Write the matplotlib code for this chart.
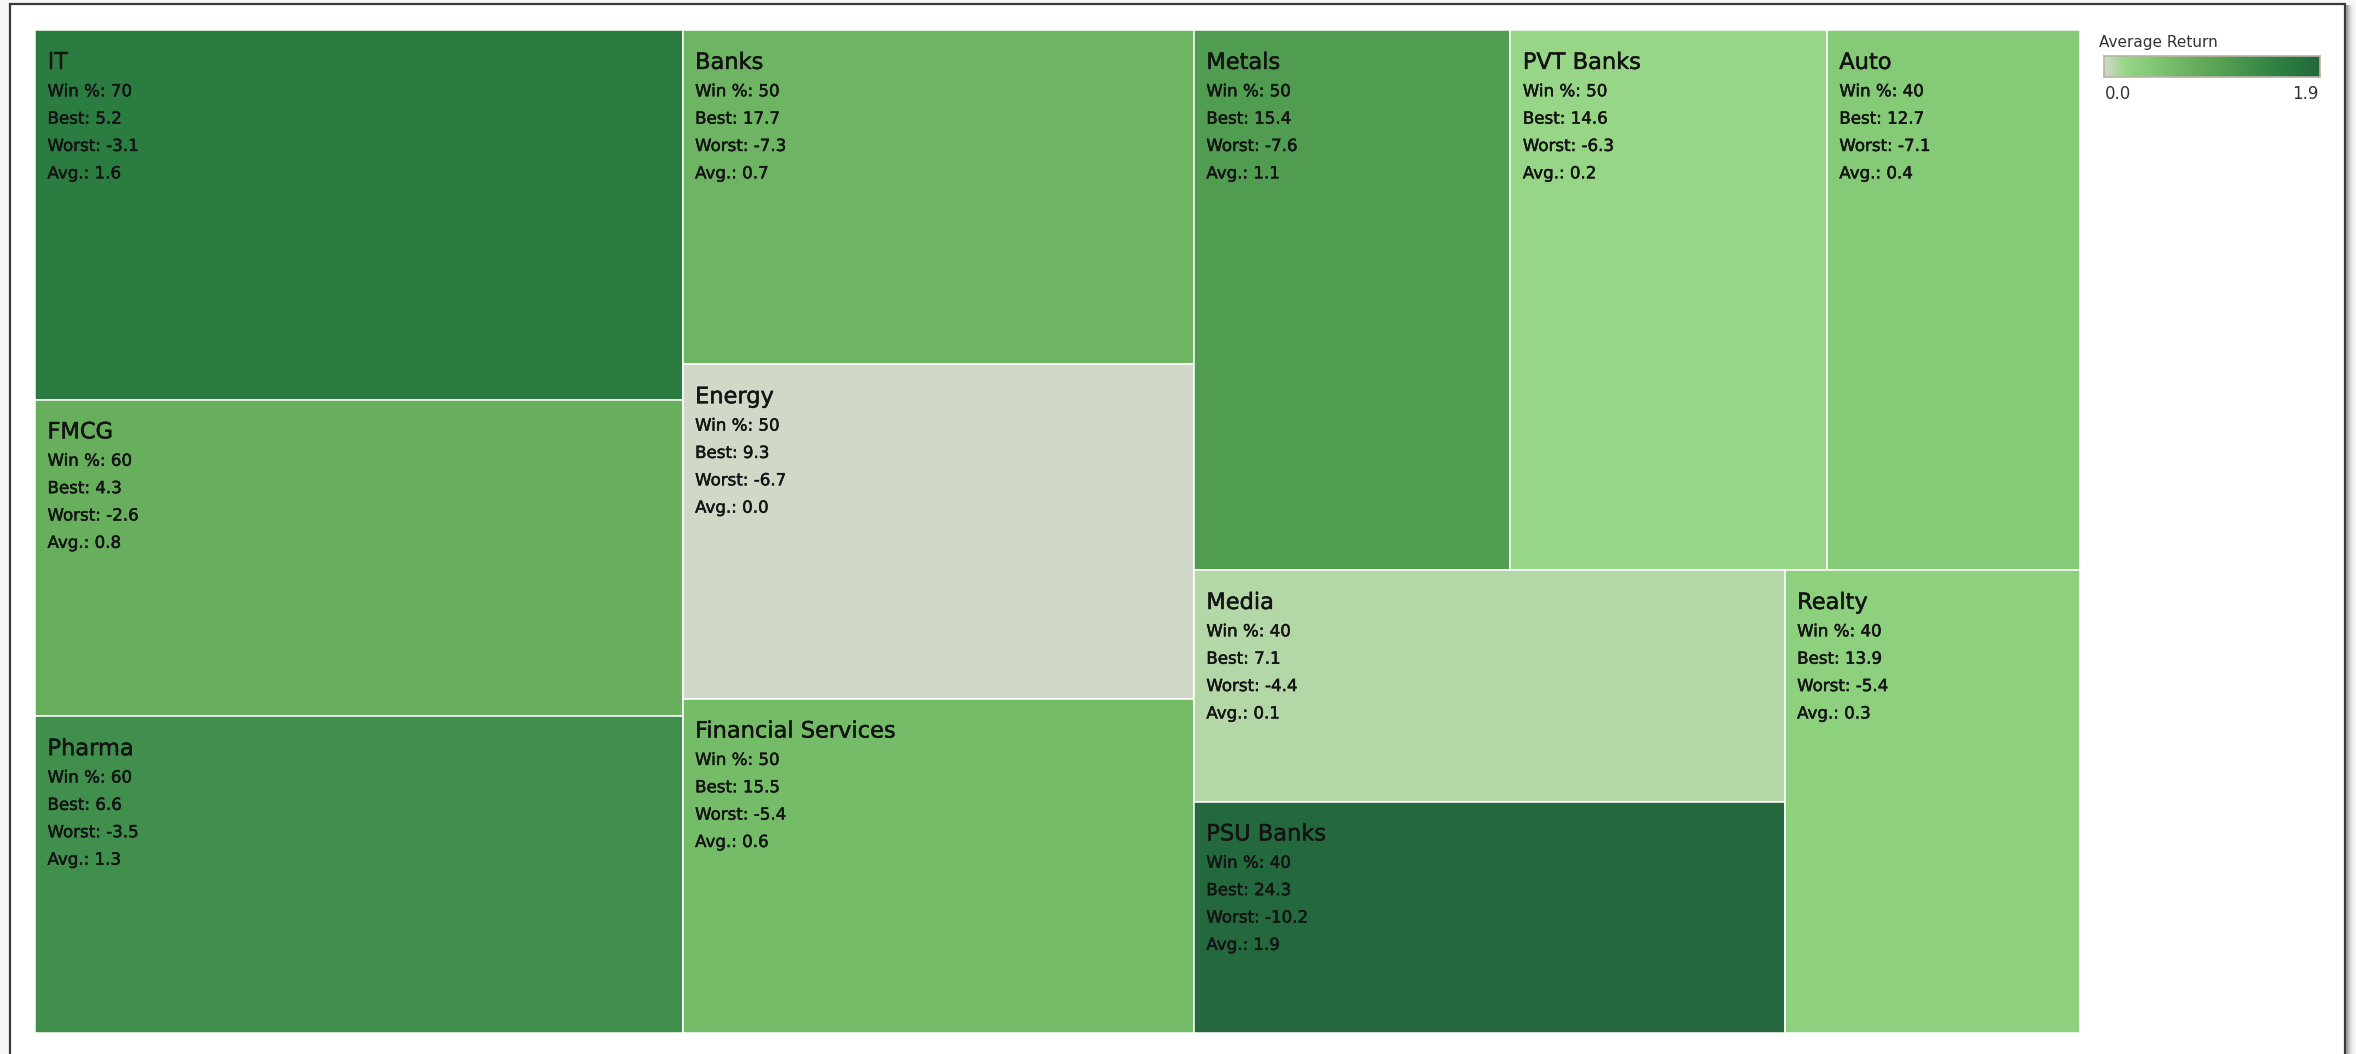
import numpy as np
import matplotlib
matplotlib.use("Agg")
import matplotlib.pyplot as plt
import matplotlib.patheffects as pe
from matplotlib.colors import LinearSegmentedColormap, Normalize
from matplotlib.patches import Rectangle

plt.rcParams['font.family'] = ['DejaVu Sans']

# sectors, in the order the treemap places them
sectors = ['IT', 'FMCG', 'Pharma', 'Banks', 'Energy', 'Financial Services',
           'Metals', 'PVT Banks', 'Auto', 'Media', 'PSU Banks', 'Realty']
win_pct = [70, 60, 60, 50, 50, 50, 50, 50, 40, 40, 40, 40]
best = [5.2, 4.3, 6.6, 17.7, 9.3, 15.5, 15.4, 14.6, 12.7, 7.1, 24.3, 13.9]
worst = [-3.1, -2.6, -3.5, -7.3, -6.7, -5.4, -7.6, -6.3, -7.1, -4.4, -10.2, -5.4]
avg = [1.6, 0.8, 1.3, 0.7, 0.0, 0.6, 1.1, 0.2, 0.4, 0.1, 1.9, 0.3]

# how many items go in each strip of the layout
strips = [3, 3, 3, 2, 1]

# tableau-like green ramp, starting from a grey tone at 0
greens = ["#98d687", "#8ed07f", "#85ca77", "#7dc370", "#75bc69", "#6eb663",
          "#67af5c", "#61a956", "#59a253", "#519c51", "#49964f", "#428f4d",
          "#398949", "#308344", "#2b7c40", "#27763d", "#256f3d", "#24693d"]
stops = [(0.0, "#d0d9c7")] + [(0.1 + 0.9 * i / (len(greens) - 1), c) for i, c in enumerate(greens)]
cmap = LinearSegmentedColormap.from_list('avg_ret', stops)
norm = Normalize(vmin=min(avg), vmax=max(avg))


def strip_layout(values, x, y, w, h, groups):
    scale = w * h / sum(values)
    rects = []
    i = 0
    for n in groups:
        grp = values[i:i + n]
        area = sum(grp) * scale
        if w >= h:
            t = area / h
            yy = y
            for v in grp:
                hh = v * scale / t
                rects.append((x, yy, t, hh))
                yy += hh
            x += t
            w -= t
        else:
            t = area / w
            xx = x
            for v in grp:
                ww = v * scale / t
                rects.append((xx, y, ww, t))
                xx += ww
            y += t
            h -= t
        i += n
    return rects


W, H = 2356, 1054
fig = plt.figure(figsize=(W / 100, H / 100), dpi=100)
fig.patch.set_facecolor('#f7f7f7')

# dashboard frame
fig.patches.append(Rectangle((10 / W, -0.1), 2335 / W, 1.1 - 4 / H, transform=fig.transFigure,
                             facecolor='white', edgecolor='#3a3a3a', lw=1.6, zorder=-5))
for k, g in enumerate(['#8a8a8a', '#b0b0b0', '#cfcfcf', '#e4e4e4', '#f0f0f0']):
    fig.add_artist(plt.Line2D([(2347 + 1.5 * k) / W] * 2, [0, 1 - 6 / H], transform=fig.transFigure,
                              color=g, lw=1.2, zorder=-4))

x0, x1, y0, y1 = 35, 2080, 30, 1033
ax = fig.add_axes([x0 / W, 1 - y1 / H, (x1 - x0) / W, (y1 - y0) / H])
ax.set_zorder(1)
pw, ph = x1 - x0, y1 - y0
ax.set_xlim(0, pw)
ax.set_ylim(ph, 0)
ax.axis('off')

rects = strip_layout(win_pct, 0, 0, pw, ph, strips)
txt_col = '#141414'
thick = [pe.withStroke(linewidth=0.35, foreground=txt_col)]
for (rx, ry, rw, rh), name, wp, b, wo, a in zip(rects, sectors, win_pct, best, worst, avg):
    ax.add_patch(Rectangle((rx, ry), rw, rh, facecolor=cmap(norm(a)), edgecolor='white', lw=1.1))
    ax.annotate(name, (rx, ry), xytext=(9, -28), textcoords='offset points',
                fontsize=16.2, color=txt_col, va='baseline', ha='left', path_effects=thick)
    lines = [f'Win %: {wp}', f'Best: {b:.1f}', f'Worst: {wo:.1f}', f'Avg.: {a:.1f}']
    for j, s in enumerate(lines):
        ax.annotate(s, (rx, ry), xytext=(9, -47.7 - 19.7 * j), textcoords='offset points',
                    fontsize=12, color=txt_col, va='baseline', ha='left', path_effects=thick)

# colour legend
fig.text(2099 / W, 1 - 47 / H, 'Average Return', fontsize=11, color='#333333',
         ha='left', va='baseline')
cax = fig.add_axes([2104 / W, 1 - 77 / H, (2320 - 2104) / W, 21 / H])
cax.set_zorder(1)
grad = np.linspace(min(avg), max(avg), 256).reshape(1, -1)
cax.imshow(grad, aspect='auto', cmap=cmap, norm=norm, extent=(0, 1, 0, 1))
cax.set_xticks([])
cax.set_yticks([])
for sp in cax.spines.values():
    sp.set_color('#b8b4a4')
    sp.set_linewidth(1.2)
fig.text(2105 / W, 1 - 99 / H, f'{min(avg):.1f}', fontsize=12, color='#333333', ha='left', va='baseline')
fig.text(2319 / W, 1 - 99 / H, f'{max(avg):.1f}', fontsize=12, color='#333333', ha='right', va='baseline')

fig.savefig('out.png', dpi=100, facecolor=fig.get_facecolor())
